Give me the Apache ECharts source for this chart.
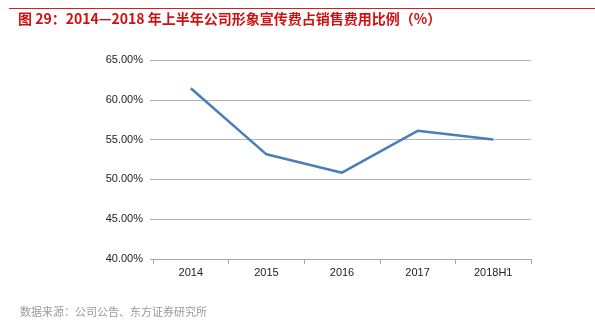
<!DOCTYPE html>
<html>
<head>
<meta charset="utf-8">
<script src="https://cdn.jsdelivr.net/npm/echarts@6/dist/echarts.min.js"></script>
<style>
  html, body { margin: 0; padding: 0; background: #fff; }
  #chart { width: 595px; height: 325px; }
</style>
</head>
<body>
<div id="chart"></div>
<script>
// Share of image/brand advertising in total selling expenses
const categories = ['2014', '2015', '2016', '2017', '2018H1'];
const shareValues = [61.45, 53.15, 50.84, 56.1, 55.0];
const yTicks = { min: 40, max: 65, step: 5 };
const titleText = '图 29：2014—2018 年上半年公司形象宣传费占销售费用比例（%）';
const sourceText = '数据来源：公司公告、东方证券研究所';

const chart = echarts.init(document.getElementById('chart'), null, { renderer: 'canvas' });
chart.setOption({
  animation: false,
  backgroundColor: '#fff',
  graphic: [
    { type: 'line', shape: { x1: 9, y1: 8.5, x2: 595, y2: 8.5 }, style: { stroke: '#d42020', lineWidth: 1 } },
    { type: 'text', left: 18, top: 12, style: { text: titleText, fill: '#d01010', font: 'bold 14px "Noto Sans CJK SC", sans-serif' } },
    { type: 'text', left: 20, top: 306, style: { text: sourceText, fill: '#9a9a9a', font: '11px "Noto Sans CJK SC", sans-serif' } }
  ],
  grid: { left: 153, right: 64, top: 60, bottom: 66 },
  xAxis: {
    type: 'category',
    data: categories,
    boundaryGap: true,
    axisLine: { lineStyle: { color: '#a6a6a6', width: 1 } },
    axisTick: { show: true, length: 5, lineStyle: { color: '#a6a6a6' } },
    axisLabel: { color: '#222', fontSize: 11, margin: 8, fontFamily: 'Liberation Sans, Arial, sans-serif' }
  },
  yAxis: {
    type: 'value',
    min: yTicks.min,
    max: yTicks.max,
    interval: yTicks.step,
    axisLine: { show: false },
    axisTick: { show: true, length: 3, lineStyle: { color: '#a6a6a6' } },
    splitLine: { lineStyle: { color: '#b4b4b4', width: 1 } },
    axisLabel: {
      color: '#222', fontSize: 11, margin: 10, fontFamily: 'Liberation Sans, Arial, sans-serif',
      formatter: v => v.toFixed(2) + '%'
    }
  },
  series: [{
    type: 'line',
    data: shareValues,
    symbol: 'none',
    lineStyle: { color: '#4a7ebb', width: 2.5 },
    itemStyle: { color: '#4a7ebb' }
  }]
});
</script>
</body>
</html>
